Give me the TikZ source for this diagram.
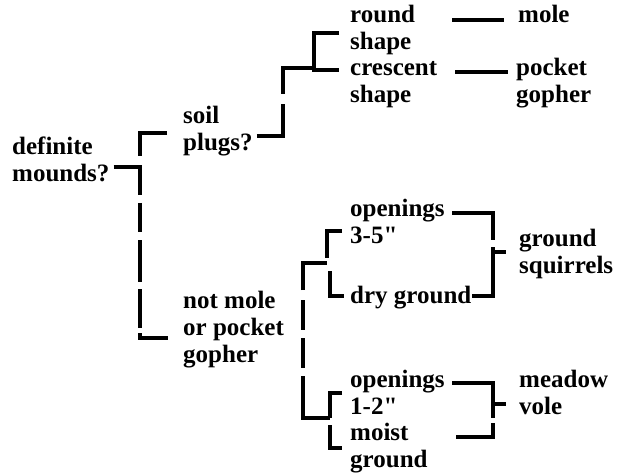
\documentclass[tikz,border=0pt]{standalone}
\usepackage{fontspec}
\setmainfont{Liberation Serif}[Ligatures=TeXOff]
\newcommand\stack[1]{\begin{tabular}[t]{@{}l@{}}#1\end{tabular}}
\tikzset{
  lbl/.style={anchor=base west, inner sep=0pt,
    font=\fontsize{25}{27}\selectfont\bfseries},
  rule/.style={line width=4pt, line cap=butt, line join=miter},
}
\begin{document}
\begin{tikzpicture}[x=1pt,y=-1pt]
\useasboundingbox (0,0) rectangle (635,476);
\fill[white] (0,0) rectangle (635,476);

% key entries
\node[lbl] (mounds)  at (12,155)  {\stack{definite\\mounds?}};
\node[lbl] (plugs)   at (183,124) {\stack{soil\\plugs?}};
\node[lbl] (notmole) at (183,308) {\stack{not mole\\or pocket\\gopher}};
\node[lbl] (round)   at (350,23)  {\stack{round\\shape}};
\node[lbl] (cresc)   at (350,76)  {\stack{crescent\\shape}};
\node[lbl] (big)     at (350,217) {\stack{openings\\3-5"}};
\node[lbl] (dry)     at (350,303) {dry ground};
\node[lbl] (small)   at (350,387) {\stack{openings\\1-2"}};
\node[lbl] (moist)   at (350,440) {\stack{moist\\ground}};
\node[lbl] (mole)    at (518,23)  {mole};
\node[lbl] (gopher)  at (516,76)  {\stack{pocket\\gopher}};
\node[lbl] (squir)   at (519,247) {\stack{ground\\squirrels}};
\node[lbl] (vole)    at (519,387) {\stack{meadow\\vole}};

% first split: definite mounds?
\draw[rule] (167,133) -- (140,133) -- (140,156);
\draw[rule] (mounds.east |- 0,167) ++(4,0) -- (140,167) -- (140,195);
\draw[rule] (140,203) -- (140,232);
\draw[rule] (140,240) -- (140,282);
\draw[rule] (140,289) -- (140,328);
\draw[rule] (140,333) -- (140,338) -- (168,338);

% soil plugs? -> mound shape
\draw[rule] (plugs.east |- 0,136) ++(4,0) -- (283,136) -- (283,104);
\draw[rule] (283,94) -- (283,68) -- (314,68);
\draw[rule] (339,33) -- (314,33) -- (314,70) -- (339,70);
\draw[rule] (452,20) -- (504,20);
\draw[rule] (455,72) -- (508,72);

% not mole or pocket gopher -> opening size
\draw[rule] (303,290) -- (303,263) -- (327,263);
\draw[rule] (342,231) -- (327,231) -- (327,258);
\draw[rule] (330,271) -- (330,296) -- (344,296);
\draw[rule] (303,300) -- (303,330);
\draw[rule] (303,338) -- (303,368);
\draw[rule] (303,376) -- (303,418) -- (330,418);
\draw[rule] (342,393) -- (330,393) -- (330,418);
\draw[rule] (330,425) -- (330,448) -- (342,448);

% ground squirrels
\draw[rule] (452,213) -- (493,213) -- (493,240);
\draw[rule] (493,247) -- (493,296) -- (dry.east |- 0,296) ++(5,0);
\draw[rule] (493,252) -- (506,252);

% meadow vole
\draw[rule] (452,383) -- (493,383) -- (493,418);
\draw[rule] (493,404) -- (506,404);
\draw[rule] (456,437) -- (493,437) -- (493,423);
\end{tikzpicture}
\end{document}
